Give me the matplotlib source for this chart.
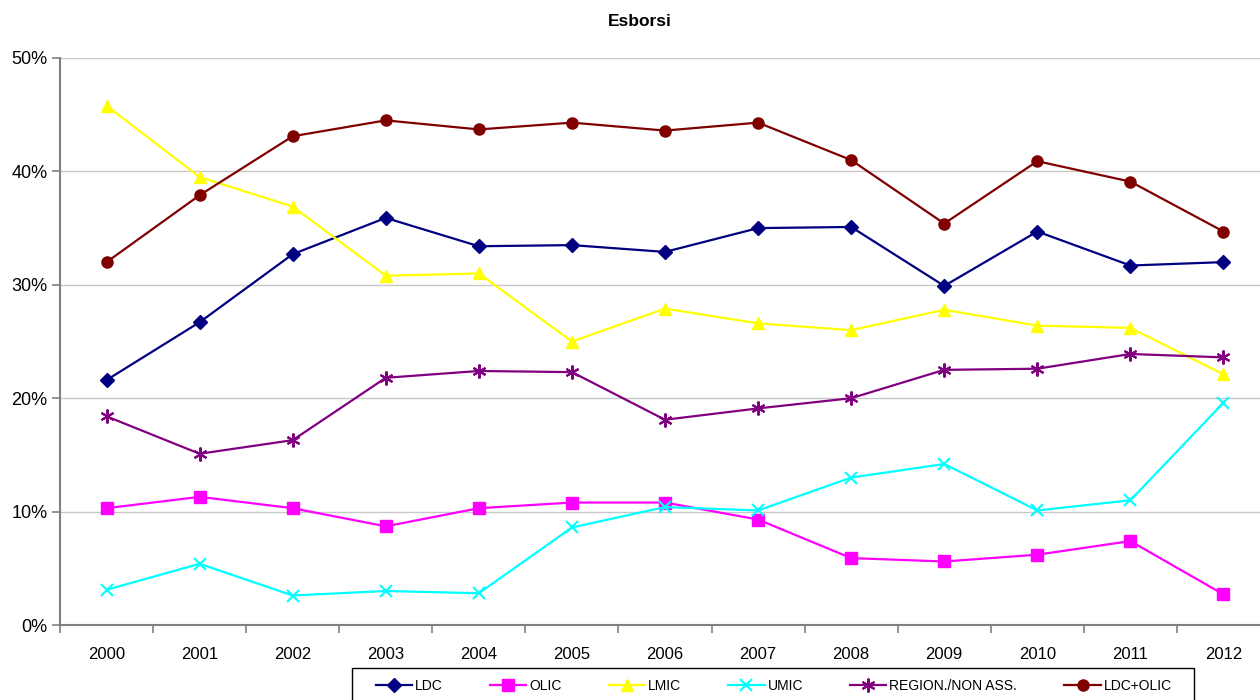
import matplotlib
matplotlib.use("Agg")
import matplotlib.pyplot as plt
from matplotlib.ticker import FixedLocator, PercentFormatter
from matplotlib.patches import Rectangle

plt.rcParams['font.family'] = ['Liberation Sans', 'DejaVu Sans']

years = ["2000", "2001", "2002", "2003", "2004", "2005", "2006",
         "2007", "2008", "2009", "2010", "2011", "2012"]

ldc = [21.6, 26.7, 32.7, 35.9, 33.4, 33.5, 32.9, 35.0, 35.1, 29.9, 34.7, 31.7, 32.0]
olic = [10.3, 11.3, 10.3, 8.7, 10.3, 10.8, 10.8, 9.3, 5.9, 5.6, 6.2, 7.4, 2.7]
lmic = [45.8, 39.5, 36.9, 30.8, 31.0, 25.0, 27.9, 26.6, 26.0, 27.8, 26.4, 26.2, 22.1]
umic = [3.1, 5.4, 2.6, 3.0, 2.8, 8.6, 10.4, 10.1, 13.0, 14.2, 10.1, 11.0, 19.6]
region = [18.4, 15.1, 16.3, 21.8, 22.4, 22.3, 18.1, 19.1, 20.0, 22.5, 22.6, 23.9, 23.6]
ldc_olic = [32.0, 37.9, 43.1, 44.5, 43.7, 44.3, 43.6, 44.3, 41.0, 35.4, 40.9, 39.1, 34.7]

series = [
    ("LDC", ldc, "#000080", "D", 7),
    ("OLIC", olic, "#FF00FF", "s", 8),
    ("LMIC", lmic, "#FFFF00", "^", 9),
    ("UMIC", umic, "#00FFFF", "x", 9),
    ("REGION./NON ASS.", region, "#800080", (6, 2, 0), 10),
    ("LDC+OLIC", ldc_olic, "#800000", "o", 8),
]

fig = plt.figure(figsize=(12.6, 7.0), dpi=100)
ax = fig.add_axes([60/1260, 1 - 625/700, 1210/1260, (625 - 58)/700])

x = list(range(len(years)))
for name, vals, col, mk, ms in series:
    ax.plot(x, vals, color=col, marker=mk, markersize=ms, linewidth=1.6,
            markeredgewidth=1.5 if mk in ("x", (6, 2, 0)) else 1.0,
            markeredgecolor=col, markerfacecolor=col, label=name,
            clip_on=False, zorder=3)

ax.set_xlim(-0.5, len(years) - 0.5)
ax.set_ylim(0, 50)
ax.set_yticks([0, 10, 20, 30, 40, 50])
ax.yaxis.set_major_formatter(PercentFormatter(decimals=0))
ax.set_xticks(x)
ax.set_xticklabels(years)
ax.xaxis.set_minor_locator(FixedLocator([i - 0.5 for i in range(len(years) + 1)]))
ax.tick_params(axis='x', which='major', length=0, pad=16, labelsize=12)
ax.tick_params(axis='x', which='minor', length=6, color='#808080', width=1.2)
ax.tick_params(axis='y', length=6, color='#808080', width=1.2, labelsize=13, pad=3)

ax.grid(axis='y', color='#C8C8C8', linewidth=1.0, zorder=0)
ax.set_axisbelow(True)
for s in ("top", "right"):
    ax.spines[s].set_visible(False)
for s in ("left", "bottom"):
    ax.spines[s].set_color('#808080')
    ax.spines[s].set_linewidth(1.5)

fig.text(640/1260, 1 - 22/700, "Esborsi", ha='center', va='center',
         fontsize=12.5, fontweight='bold')

# legend frame (extends below the figure edge as in the reference)
fig.patches.append(Rectangle((352/1260, -0.05), (1194 - 352)/1260, 0.05 + (700 - 668)/700,
                             transform=fig.transFigure, facecolor='white',
                             edgecolor='black', linewidth=1.0, zorder=1))

leg = fig.legend(loc='center left', bbox_to_anchor=(376/1260, 1 - 686/700),
                 ncol=6, frameon=False, fontsize=10,
                 handlelength=2.6, columnspacing=3.4, handletextpad=0.22,
                 borderpad=0.0, borderaxespad=0)
leg.set_zorder(2)

fig.savefig("out.png", dpi=100)
